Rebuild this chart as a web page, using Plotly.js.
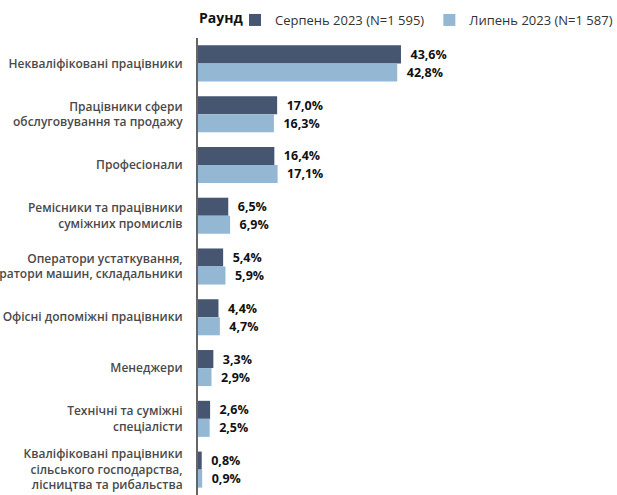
<!DOCTYPE html>
<html>
<head>
<meta charset="utf-8">
<script src="https://cdn.plot.ly/plotly-3.0.1.min.js"></script>
<style>html,body{margin:0;padding:0;background:#fff;}#chart{width:617px;height:495px;}</style>
</head>
<body>
<div id="chart"></div>
<script>
const categories = [
  "Некваліфіковані працівники",
  "Працівники сфери<br>обслуговування та продажу",
  "Професіонали",
  "Ремісники та працівники<br>суміжних промислів",
  "Оператори устаткування,<br>оператори машин, складальники",
  "Офісні допоміжні працівники",
  "Менеджери",
  "Технічні та суміжні<br>спеціалісти",
  "Кваліфіковані працівники<br>сільського господарства,<br>лісництва та рибальства"
];
const seriesNames = ["Серпень 2023 (N=1 595)", "Липень 2023 (N=1 587)"];
const legendTitle = "Раунд";
const august = [43.6, 17.0, 16.4, 6.5, 5.4, 4.4, 3.3, 2.6, 0.8];
const july = [42.8, 16.3, 17.1, 6.9, 5.9, 4.7, 2.9, 2.5, 0.9];
const colors = ["#465670", "#94B8D4"];

const font = "'Open Sans', 'Noto Sans', sans-serif";
const mk = (vals, i) => ({
  type: "bar", orientation: "h",
  y: categories, x: vals, name: seriesNames[i],
  marker: {color: colors[i]},
  texttemplate: "\u00a0\u00a0%{x:.1f}%", textposition: "outside", cliponaxis: false,
  textfont: {family: font, size: 12.5, color: "#111", weight: "bold"},
  hoverinfo: "skip"
});

const data = [mk(august, 0), mk(july, 1)];
const layout = {
  width: 617, height: 495,
  margin: {l: 198, r: 0, t: 38, b: 0, pad: 0},
  separators: ", ",
  barmode: "group", bargap: 0.29, bargroupgap: 0,
  paper_bgcolor: "#fff", plot_bgcolor: "#fff",
  font: {family: font, color: "#333"},
  xaxis: {range: [0, 90], visible: false, showgrid: false, zeroline: false},
  yaxis: {
    autorange: "reversed", automargin: false,
    showline: true, linecolor: "#666", linewidth: 2,
    ticks: "outside", ticklen: 11, tickcolor: "rgba(0,0,0,0)",
    tickfont: {family: font, size: 12, color: "#4a4a4a", weight: 600},
    showgrid: false, zeroline: false
  },
  showlegend: true,
  legend: {
    orientation: "h", x: 235 / 617, xanchor: "left", y: 1 - 5 / 495, yanchor: "top",
    yref: "container", xref: "container",
    font: {family: font, size: 13, color: "#333"},
    traceorder: "normal", tracegroupgap: 0
  },
  annotations: [{
    text: legendTitle, showarrow: false,
    xref: "paper", x: -0.002, xanchor: "left",
    yref: "paper", y: 1 + 20 / 457, yanchor: "middle",
    font: {family: font, size: 14, color: "#111", weight: "bold"}
  }]
};
Plotly.newPlot("chart", data, layout, {displayModeBar: false, staticPlot: true});
</script>
</body>
</html>
